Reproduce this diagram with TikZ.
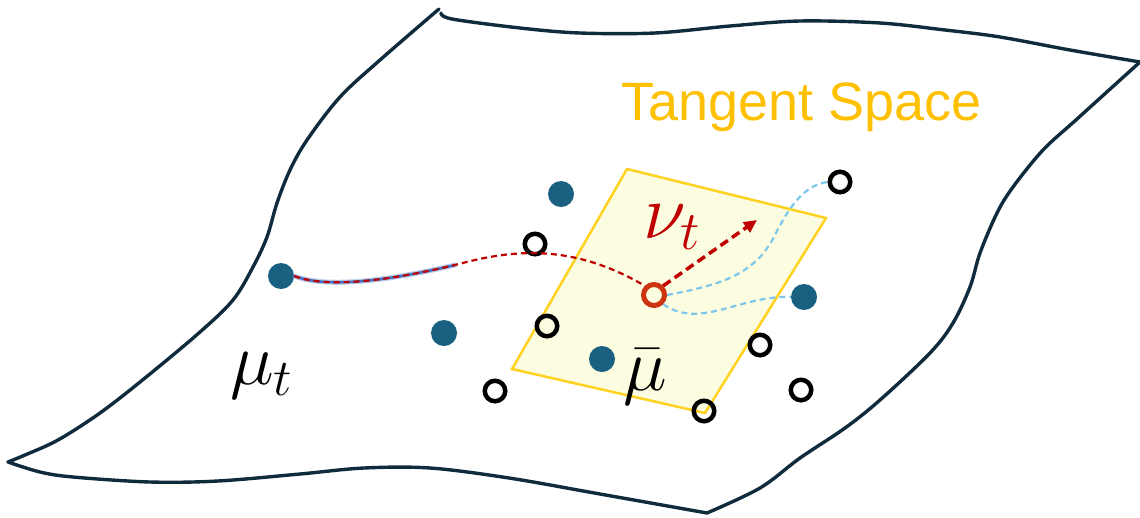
\RequirePackage{fix-cm}
\documentclass[tikz,border=0pt]{standalone}
\usepackage{fontspec}
\newfontfamily\arialfont{Liberation Sans}
\usetikzlibrary{arrows.meta}
\definecolor{edgec}{HTML}{0F2B3C}
\definecolor{dotc}{HTML}{1A6080}
\definecolor{goldtxt}{HTML}{FFC000}
\definecolor{goldline}{HTML}{FFD21F}
\definecolor{goldfill}{HTML}{FCFCE0}
\definecolor{darkred}{HTML}{C00000}
\definecolor{redring}{HTML}{CC3311}
\definecolor{lblue}{HTML}{7CC7EA}
\definecolor{underblue}{HTML}{4472C4}
\tikzset{
  manifold/.style={draw=edgec, line width=3.4pt, line cap=round, line join=round},
  bdot/.style={circle, fill=dotc, minimum size=26pt, inner sep=0pt},
  odot/.style={circle, draw=black, line width=4.5pt, minimum size=20.5pt, inner sep=0pt},
  rdot/.style={circle, draw=redring, line width=5pt, minimum size=21pt, inner sep=0pt},
  geod/.style={draw=darkred, line width=2.2pt, dash pattern=on 6pt off 4pt},
  lbdash/.style={draw=lblue, line width=2.2pt, dash pattern=on 6pt off 4pt},
  mathlbl/.style={inner sep=0pt, anchor=base west},
}
\begin{document}
\begin{tikzpicture}[x=1pt, y=-1pt]
\useasboundingbox (0,0) rectangle (1140,517);
% manifold sheet
\draw[manifold] plot[smooth, tension=0.55] coordinates {(439,9) (380,60) (340,97) (307,140) (290,170) (277,203) (267,237) (253,267) (233,300) (200,332) (145,378) (100,413) (58,440) (25,455) (8,462)};
\draw[manifold] plot[smooth, tension=0.55] coordinates {(8,462) (40,472) (73,477) (150,482) (218,481) (300,474) (364,468) (430,468) (509,478) (600,494) (707,513)};
\draw[manifold] plot[smooth, tension=0.55] coordinates {(707,513) (760,488) (800,458) (845,428) (880,400) (930,353) (953,323) (970,287) (980,253) (997,213) (1013,187) (1043,150) (1077,119) (1140,62)};
\draw[manifold] plot[smooth, tension=0.55] coordinates {(441,13) (452,19) (520,28) (580,33) (655,33) (730,26) (800,21) (880,23) (945,30) (1000,37) (1070,50) (1140,62)};
% tangent plane
\filldraw[draw=goldline, fill=goldfill, line width=2.5pt, line join=miter]
  (627,169) -- (826,218) -- (705,413) -- (512,369) -- cycle;
\node[text=goldtxt, font=\arialfont\fontsize{54}{60}\selectfont, inner sep=0pt, anchor=base west] (ts) at (621,120) {Tangent Space};
% points
\node[bdot] (b1) at (281,276) {};
\node[bdot] (b2) at (561,194) {};
\node[bdot] (b3) at (444,333) {};
\node[bdot] (b4) at (804,297) {};
\node[bdot] (b5) at (602,359) {};
\node[odot] (o1) at (840,182) {};
\node[odot] (o2) at (535,244) {};
\node[odot] (o3) at (547,326) {};
\node[odot] (o4) at (760,345) {};
\node[odot] (o5) at (495,391) {};
\node[odot] (o6) at (801,390) {};
\node[odot] (o7) at (704,411) {};
\node[rdot] (r) at (654,295) {};
\coordinate (gmid) at (455,265);
\coordinate (tip) at (757,220);
% geodesic
\draw[underblue, line width=5pt, opacity=0.35, line cap=round] (b1.east) .. controls (330,290) and (400,278) .. (gmid);
\draw[underblue, line width=2.6pt, line cap=round] (b1.east) .. controls (330,290) and (400,278) .. (gmid);
\draw[geod] (b1.east) .. controls (330,290) and (400,278) .. (gmid)
  .. controls (510,250) and (570,242) .. (r.north west);
% light blue paths
\draw[lbdash] (r.east) .. controls (720,285) and (755,275) .. (775,235)
  .. controls (790,205) and (805,185) .. (o1.west);
\draw[lbdash] (r.south east) .. controls (700,330) and (740,295) .. (b4.west);
% tangent vector
\draw[darkred, line width=3.5pt, dash pattern=on 9pt off 5pt, -{Triangle[length=13pt,width=12pt]}] (r.north east) -- (tip);
% labels
\node[mathlbl, text=darkred] (nu) at (643,238) {\fontsize{78}{80}\selectfont$\nu_t$};
\node[mathlbl] (mut) at (230,384) {\fontsize{74}{80}\selectfont$\mu_t$};
\node[mathlbl] (mubar) at (623,390) {\fontsize{74}{80}\selectfont$\bar{\mu}$};
\end{tikzpicture}
\end{document}
